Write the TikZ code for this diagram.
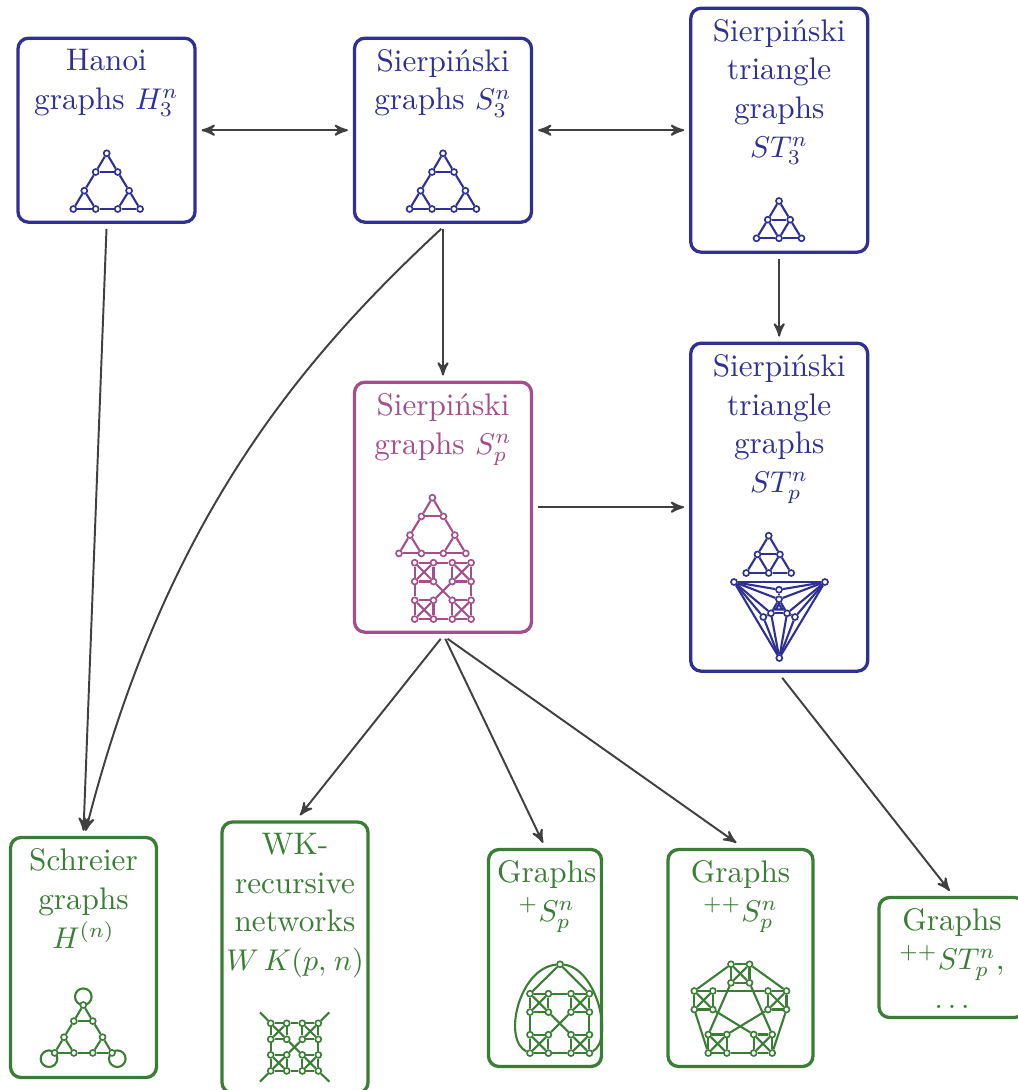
\documentclass[tikz,border=0pt]{standalone}
\usetikzlibrary{arrows}
\definecolor{sblue}{RGB}{46,49,146}
\definecolor{smagenta}{RGB}{164,79,139}
\definecolor{sgreen}{RGB}{58,125,52}
\definecolor{sarrow}{RGB}{64,64,64}
\tikzset{
  vtx/.style={circle,draw,fill=white,inner sep=0pt,minimum size=2pt,line width=.55pt},
  edge/.style={line width=.7pt},
  gbox/.style 2 args={draw,line width=1.1pt,rounded corners=3.5pt,inner sep=0pt,outer sep=2.2pt,
    minimum width=#1*0.33333pt,minimum height=#2*0.33333pt},
  boxtext/.style={anchor=north,align=center,inner sep=0pt,yshift=-5.7pt,
    font=\fontsize{10.4}{12.9}\selectfont},
  conn/.style={line width=.65pt,sarrow,>=stealth'},
}
\newcommand{\sierpthree}[3]{
  \begin{scope}[shift={(#1,#2)},scale=#3,edge]
    \foreach \n/\x/\y in {a/0/0,b/-11/18.7,c/11/18.7,d/-22.4/37.4,e/22.4/37.4,
        f/-33.4/55.7,g/-11/55.7,h/11/55.7,i/33.4/55.7}
      \node[vtx] (\n) at (\x,\y) {};
    \foreach \p/\q in {a/b,a/c,b/c,b/d,c/e,d/f,d/g,f/g,g/h,h/i,e/h,e/i}
      \draw (\p) -- (\q);
  \end{scope}
}
\newcommand{\striangle}[2]{
  \begin{scope}[shift={(#1,#2)},edge]
    \foreach \n/\x/\y in {a/0/0,b/-11.2/18.7,c/11.2/18.7,d/-22.5/37.3,e/0/37.3,f/22.5/37.3}
      \node[vtx] (\n) at (\x,\y) {};
    \foreach \p/\q in {a/b,a/c,b/c,b/d,b/e,c/e,c/f,d/e,e/f}
      \draw (\p) -- (\q);
  \end{scope}
}
\newcommand{\kfour}[4]{
  \begin{scope}[shift={(#2,#3)},edge]
    \node[vtx] (#11) at (0,0) {};
    \node[vtx] (#12) at (#4,0) {};
    \node[vtx] (#13) at (0,#4) {};
    \node[vtx] (#14) at (#4,#4) {};
    \foreach \p/\q in {1/2,1/3,1/4,2/3,2/4,3/4}
      \draw (#1\p) -- (#1\q);
  \end{scope}
}
\newcommand{\sierpfour}[4]{
  \pgfmathsetmacro{\xb}{#1+#4}
  \pgfmathsetmacro{\yb}{#2+#4}
  \kfour{p}{#1}{#2}{#3}
  \kfour{q}{\xb}{#2}{#3}
  \kfour{r}{#1}{\yb}{#3}
  \kfour{s}{\xb}{\yb}{#3}
  \foreach \p/\q in {p2/q1,p3/r1,q4/s2,r4/s3,p4/s1,q3/r2}
    \draw[edge] (\p) -- (\q);
}
\begin{document}
\begin{tikzpicture}[x=0.33333pt,y=-0.33333pt]
\useasboundingbox (0,0) rectangle (1017,1090);

\begin{scope}[color=sblue]
\node[gbox={177}{184}] (hanoi) at (106.5,130.2) {};
\node[gbox={177}{184}] (sthree) at (443,130.2) {};
\node[gbox={177}{244}] (stthree) at (779.2,130.2) {};
\node[gbox={177}{328}] (stp) at (779.2,507.2) {};
\node[boxtext] (hanoitext) at (hanoi.north) {Hanoi\\graphs $H_3^n$};
\node[boxtext] (sthreetext) at (sthree.north) {Sierpiński\\graphs $S_3^n$};
\node[boxtext] (stthreetext) at (stthree.north) {Sierpiński\\triangle\\graphs\\$ST_3^n$};
\node[boxtext] (stptext) at (stp.north) {Sierpiński\\triangle\\graphs\\$ST_p^n$};
\sierpthree{106.7}{153.3}{1}
\sierpthree{443}{153.3}{1}
\striangle{779}{201}
\striangle{768.7}{535.7}
\begin{scope}[edge]
\foreach \n/\x/\y in {ca/734/582,cb/825/582,cc/779.3/658,ct/779/589.7,cu/779/599.3,
    cl/771/613.3,cr/787/613.3,cm/763.3/617,cn/795/617}
  \node[vtx] (\n) at (\x,\y) {};
\foreach \p/\q in {ca/cb,ca/cc,cb/cc,ca/ct,ca/cu,ca/cl,ca/cm,cb/ct,cb/cu,cb/cr,cb/cn,
    cc/cm,cc/cl,cc/cr,cc/cn,ct/cu,cu/cl,cu/cr,cl/cr,cl/cm,cr/cn}
  \draw (\p) -- (\q);
\coordinate (ci) at (779,604.5);
\coordinate (cj) at (775.5,609.5);
\coordinate (ck) at (782.5,609.5);
\draw (ci) -- (cj) -- (ck) -- cycle;
\draw (cu) -- (ci);
\end{scope}
\end{scope}

\begin{scope}[color=smagenta]
\node[gbox={177}{250}] (sp) at (443,507.2) {};
\node[boxtext] (sptext) at (sp.north) {Sierpiński\\graphs $S_p^n$};
\sierpthree{432.4}{497.7}{1}
\sierpfour{414.7}{562.7}{18.8}{37.6}
\end{scope}

\begin{scope}[color=sgreen]
\node[gbox={146}{240}] (schreier) at (83.5,957.5) {};
\node[gbox={146}{271}] (wk) at (295,957.5) {};
\node[gbox={113}{217}] (plus) at (545,958) {};
\node[gbox={145}{217}] (pplus) at (740.5,958) {};
\node[gbox={146}{120}] (other) at (952,957.5) {};
\node[boxtext] (schreiertext) at (schreier.north) {Schreier\\graphs\\$H^{(n)}$};
\node[boxtext] (wktext) at (wk.north) {WK-\\recursive\\networks\\$W\mkern3mu K(p,\mkern1.5mu n)$};
\node[boxtext,xshift=.6pt] (plustext) at (plus.north) {Graphs\\$^{+}S_p^n$};
\node[boxtext] (pplustext) at (pplus.north) {Graphs\\$^{++}S_p^n$};
\node[boxtext] (othertext) at (other.north) {Graphs\\$^{++}ST_p^n$,\\$\dots$};
\foreach \n/\x/\y in {la/83.3/996.7,lb/49/1058.7,lc/117.3/1058.7}
  \draw[edge] (\x,\y) circle [radius=8.3];
\sierpthree{83.3}{1005}{0.86}
\sierpfour{270.7}{1023.3}{16}{31.6}
\coordinate (wa) at (260,1012.3);
\coordinate (wb) at (329.3,1012.3);
\coordinate (wc) at (260,1081.7);
\coordinate (wd) at (329.3,1081.7);
\foreach \p/\q in {wa/p1,wb/q2,wc/r3,wd/s4}
  \draw[edge] (\p) -- (\q);
\sierpfour{530}{993.7}{18.4}{41}
\node[vtx] (apex) at (560,964.3) {};
\draw[edge] (apex) -- (p1);
\draw[edge] (apex) -- (q2);
\draw[edge] (apex) .. controls (519,968) and (502,1040) .. (r3);
\draw[edge] (apex) .. controls (597,968) and (614,1040) .. (s4);
\kfour{t}{731}{964.3}{18.5}
\kfour{l}{694.3}{991}{18.5}
\kfour{u}{768}{991}{18.5}
\kfour{v}{708.3}{1034.5}{18.5}
\kfour{w}{753.7}{1034.5}{18.5}
\foreach \p/\q in {t1/l1,t2/u2,l2/u1,l3/v3,u4/w4,v4/w3,t3/v1,t4/w2,l4/w1,u3/v2}
  \draw[edge] (\p) -- (\q);
\end{scope}

\begin{scope}[conn]
\draw[<->] (hanoi) -- (sthree);
\draw[<->] (sthree) -- (stthree);
\draw[->] (stthree) -- (stp);
\draw[->] (sthree) -- (sp);
\draw[->] (sp) -- (stp);
\draw[->] (hanoi.south) -- (schreier.north);
\draw[->] (sthree.-91) .. controls (300,360) and (165,520) .. (schreier.89);
\draw[->] (sp.-91.3) -- (wk.88.8);
\draw[->] (sp.-89.2) -- (plus.91);
\draw[->] (sp.-88.8) -- (pplus.92);
\draw[->] (stp.-89.2) -- (other.92);
\end{scope}
\end{tikzpicture}
\end{document}
